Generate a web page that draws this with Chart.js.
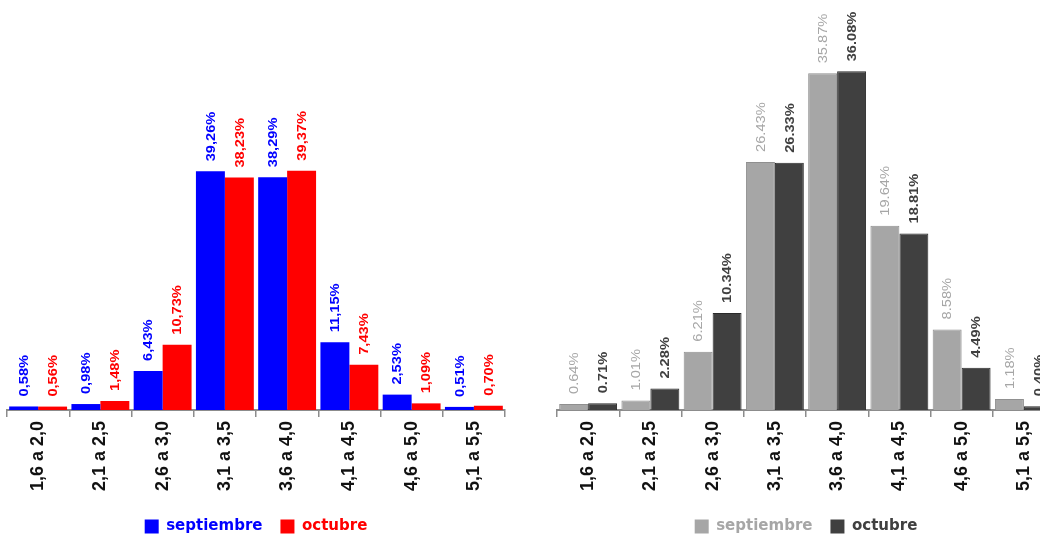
<!DOCTYPE html>
<html>
<head>
<meta charset="utf-8">
<script src="https://cdn.jsdelivr.net/npm/chart.js@4.4.1/dist/chart.umd.min.js"></script>
<style>
  html, body { margin: 0; padding: 0; background: #fff; overflow: hidden; }
  #wrap { position: relative; width: 1040px; height: 538px; overflow: hidden; }
  .box { position: absolute; top: 0; }
</style>
</head>
<body>
<div id="wrap">
  <div class="box" style="left:0px"><canvas id="chartLeft" width="512" height="544"></canvas></div>
  <div class="box" style="left:550px"><canvas id="chartRight" width="512" height="544"></canvas></div>
</div>
<script>
const categories = ['1,6 a 2,0', '2,1 a 2,5', '2,6 a 3,0', '3,1 a 3,5', '3,6 a 4,0', '4,1 a 4,5', '4,6 a 5,0', '5,1 a 5,5'];
const seriesNames = ['septiembre', 'octubre'];

// left chart
const leftSept = [0.58, 0.98, 6.43, 39.26, 38.29, 11.15, 2.53, 0.51];
const leftOct = [0.56, 1.48, 10.73, 38.23, 39.37, 7.43, 1.09, 0.70];

// right chart
const rightSept = [0.64, 1.01, 6.21, 26.43, 35.87, 19.64, 8.58, 1.18];
const rightOct = [0.71, 2.28, 10.34, 26.33, 36.08, 18.81, 4.49, 0.40];

// rotated value labels above each bar
const barLabels = {
  id: 'barLabels',
  afterDatasetsDraw(chart, args, opts) {
    const ctx = chart.ctx;
    chart.data.datasets.forEach((ds, i) => {
      const meta = chart.getDatasetMeta(i);
      meta.data.forEach((bar, j) => {
        ctx.save();
        ctx.translate(bar.x + 1, bar.y - 10);
        ctx.rotate(-Math.PI / 2);
        ctx.scale(1.22, 1);
        ctx.font = opts.fonts[i];
        ctx.fillStyle = opts.colors[i];
        ctx.textAlign = 'left';
        ctx.textBaseline = 'middle';
        ctx.fillText(opts.format(ds.data[j]), 0, 0);
        ctx.restore();
      });
    });
  }
};

function makeChart(id, sept, oct, colors, borders, labelFonts, yMax, format) {
  return new Chart(document.getElementById(id), {
    type: 'bar',
    data: {
      labels: categories,
      datasets: [{
        label: seriesNames[0],
        data: sept,
        backgroundColor: colors[0],
        borderColor: borders[0],
        borderWidth: borders[0] ? 1 : 0
      }, {
        label: seriesNames[1],
        data: oct,
        backgroundColor: colors[1],
        borderColor: borders[1],
        borderWidth: borders[1] ? 1 : 0
      }]
    },
    plugins: [barLabels],
    options: {
      responsive: false,
      animation: false,
      datasets: { bar: { categoryPercentage: 0.93, barPercentage: 1 } },
      layout: { padding: { left: 7, right: 7, top: 0, bottom: 0 } },
      scales: {
        x: {
          afterFit: s => { s.height = 91; },
          grid: { display: true, drawOnChartArea: false, drawTicks: true, tickLength: 7, color: '#8c8c8c', lineWidth: 1.5, offset: true },
          border: { display: true, color: '#8c8c8c', width: 2 },
          ticks: {
            minRotation: 90, maxRotation: 90, padding: 4,
            color: '#111',
            font: { family: 'Liberation Sans', size: 18, weight: 'bold' }
          }
        },
        y: { display: false, min: 0, max: yMax }
      },
      plugins: {
        tooltip: { enabled: false },
        legend: {
          position: 'bottom',
          labels: {
            boxWidth: 14, boxHeight: 14, padding: 18,
            font: { family: 'DejaVu Sans', size: 15, weight: 'bold' },
            generateLabels: chart => chart.data.datasets.map((ds, i) => ({
              text: ds.label,
              fillStyle: colors[i],
              strokeStyle: colors[i],
              lineWidth: 0,
              fontColor: colors[i],
              datasetIndex: i
            }))
          }
        },
        barLabels: { fonts: labelFonts, colors: colors, format: format }
      }
    }
  });
}

makeChart('chartLeft', leftSept, leftOct,
  ['#0000ff', '#ff0000'], [null, null],
  ['bold 12px "Liberation Sans"', 'bold 12px "Liberation Sans"'],
  408 / 6.05,
  v => v.toFixed(2).replace('.', ',') + '%');

makeChart('chartRight', rightSept, rightOct,
  ['#a6a6a6', '#404040'], ['#8f8f8f', '#2a2a2a'],
  ['12px "Liberation Sans"', 'bold 12px "Liberation Sans"'],
  408 / 9.34,
  v => v.toFixed(2) + '%');
</script>
</body>
</html>
